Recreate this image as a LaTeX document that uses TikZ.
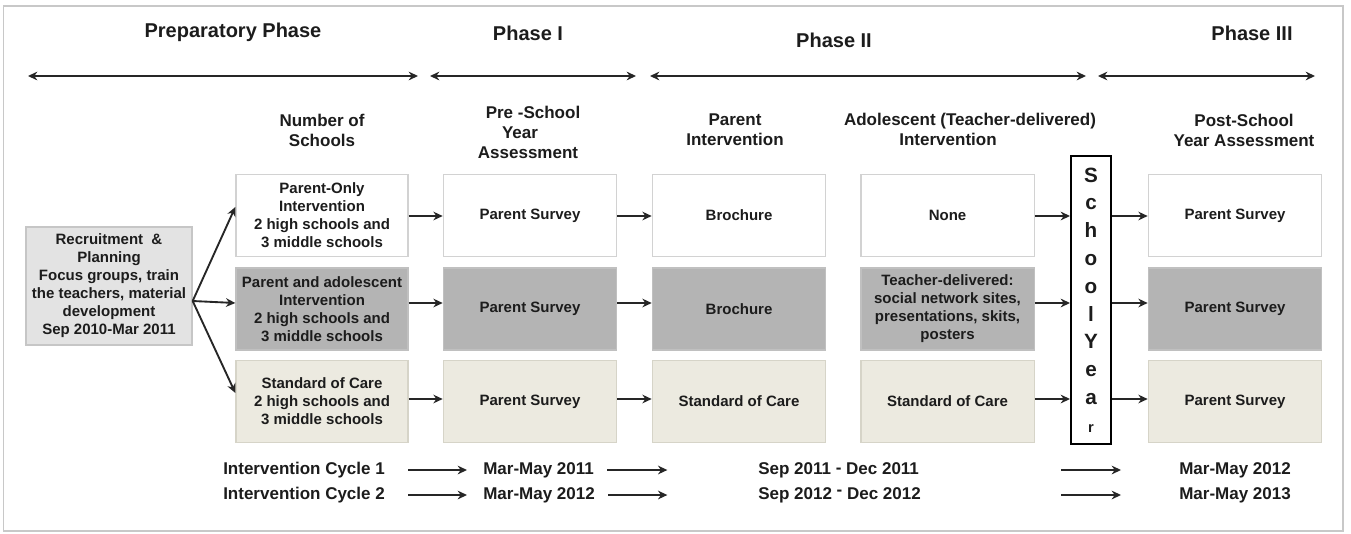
\documentclass[tikz,border=0pt]{standalone}
\usepackage{fontspec}
\setmainfont{Liberation Sans}
\usetikzlibrary{arrows.meta,calc}
\definecolor{ink}{HTML}{1C1C1C}
\definecolor{arrowc}{HTML}{262626}
\definecolor{rowAline}{HTML}{D2D2D2}
\definecolor{rowBfill}{HTML}{B4B4B4}
\definecolor{rowBline}{HTML}{C0C0C0}
\definecolor{rowCfill}{HTML}{ECEAE0}
\definecolor{rowCline}{HTML}{D6D4C8}
\definecolor{recfill}{HTML}{E3E3E3}
\definecolor{recline}{HTML}{C6C6C6}
\definecolor{framec}{HTML}{C8C8C8}
\newcommand{\bxfont}{\fontsize{11.25pt}{13.5pt}\selectfont\bfseries}
\newcommand{\hdfont}{\fontsize{12.75pt}{15pt}\selectfont\bfseries}
\newcommand{\phfont}{\fontsize{15pt}{18pt}\selectfont\bfseries}
\newcommand{\btfont}{\fontsize{12.75pt}{15pt}\selectfont\bfseries}
\newcommand{\syfont}{\fontsize{15.5pt}{20.85pt}\selectfont\bfseries}
\begin{document}
\begin{tikzpicture}[x=0.75pt,y=-0.75pt,
  cell/.style={rectangle, minimum width=130pt, minimum height=61.5pt, inner sep=1pt,
    align=center, font=\bxfont, text=ink, line width=1pt},
  rowA/.style={cell, fill=white, draw=rowAline},
  rowB/.style={cell, fill=rowBfill, draw=rowBline},
  rowC/.style={cell, fill=rowCfill, draw=rowCline},
  colhead/.style={align=center, font=\hdfont, text=ink, inner sep=0pt},
  phasetitle/.style={font=\phfont, text=ink, inner sep=0pt},
  cyctext/.style={font=\btfont, text=ink, inner sep=0pt, anchor=west},
  flowarr/.style={-{Stealth[length=7pt,width=6.5pt]}, line width=1.6pt, draw=arrowc},
  fanarr/.style={-{Stealth[length=7pt,width=6.5pt]}, line width=1.4pt, draw=arrowc},
  phasespan/.style={{Stealth[length=7pt,width=6.5pt]}-{Stealth[length=7pt,width=6.5pt]}, line width=1.6pt, draw=arrowc},
  cycarr/.style={-{Stealth[length=7pt,width=6.5pt]}, line width=1.6pt, draw=arrowc}
]
\useasboundingbox (0,0) rectangle (1351,533);
\fill[white] (0,0) rectangle (1351,533);
\draw[framec, line width=0.8pt] (3.5,6) rectangle (1343,531);

% phase titles
\node[phasetitle] (tprep) at (233,32) {Preparatory Phase};
\node[phasetitle] (tp1) at (528,33) {Phase I};
\node[phasetitle] (tp2) at (834,40) {Phase II};
\node[phasetitle] (tp3) at (1252,33) {Phase III};

% phase spans
\coordinate (s1a) at (28,76);   \coordinate (s1b) at (418,76);
\coordinate (s2a) at (430,76);  \coordinate (s2b) at (636,76);
\coordinate (s3a) at (650,76);  \coordinate (s3b) at (1086,76);
\coordinate (s4a) at (1098,76); \coordinate (s4b) at (1315,76);
\draw[phasespan] (s1a) -- (s1b);
\draw[phasespan] (s2a) -- (s2b);
\draw[phasespan] (s3a) -- (s3b);
\draw[phasespan] (s4a) -- (s4b);

% column headers
\node[colhead] (hnum) at (322,130.5) {Number of\\Schools};
\node[colhead] (hpre) at (528,132) {\hspace*{7.5pt}Pre -School\\Year\hspace*{12pt}\null\\Assessment};
\node[colhead] (hpar) at (735,130) {Parent\\Intervention};
\node[colhead] (hado) at (970,129.5) {Adolescent (Teacher-delivered)\\Intervention\hspace*{33pt}\null};
\node[colhead] (hpost) at (1244,130) {Post-School\\Year Assessment};

% recruitment box
\node[cell, fill=recfill, draw=recline, minimum width=124.5pt, minimum height=88.5pt] (rec) at (109,286)
  {Recruitment~ \&\\Planning\\Focus groups, train\\the teachers, material\\development\\Sep 2010-Mar 2011};

% column 1
\node[rowA, minimum width=129pt] (c1a) at (322,215.5) {Parent-Only\\Intervention\\2 high schools and\\3 middle schools};
\node[rowB, minimum width=129pt] (c1b) at (322,309) {Parent and adolescent\\Intervention\\2 high schools and\\3 middle schools};
\node[rowC, minimum width=129pt] (c1c) at (322,401.5) {Standard of Care\\2 high schools and\\3 middle schools};
% column 2
\node[rowA] (c2a) at (530,215.5) {Parent Survey};
\node[rowB] (c2b) at (530,309) {Parent Survey};
\node[rowC] (c2c) at (530,401.5) {Parent Survey};
% column 3
\node[rowA] (c3a) at (739,215.5) {Brochure};
\node[rowB] (c3b) at (739,309) {Brochure};
\node[rowC] (c3c) at (739,401.5) {Standard of Care};
% column 4
\node[rowA] (c4a) at (947.5,215.5) {None};
\node[rowB] (c4b) at (947.5,309) {Teacher-delivered:\\social network sites,\\presentations, skits,\\posters};
\node[rowC] (c4c) at (947.5,401.5) {Standard of Care};
% column 5
\node[rowA] (c5a) at (1235,215.5) {Parent Survey};
\node[rowB] (c5b) at (1235,309) {Parent Survey};
\node[rowC] (c5c) at (1235,401.5) {Parent Survey};

% school year
\node[draw=black, line width=1.5pt, fill=white, minimum width=30pt, minimum height=216pt,
  inner sep=0pt, align=center, font=\syfont, text=ink] (sy) at (1091,300)
  {S\\c\\h\\o\\o\\l\\Y\\e\\a\\{\fontsize{11pt}{20.85pt}\selectfont r}};

% fan arrows
\draw[fanarr] ([yshift=-11.25pt]rec.east) -- ([yshift=6.4pt]c1a.west);
\draw[fanarr] ([yshift=-11.25pt]rec.east) -- ([yshift=4.5pt]c1b.west);
\draw[fanarr] ([yshift=-11.25pt]rec.east) -- ([yshift=6.4pt]c1c.west);

% row arrows
\foreach \r/\d in {a/0.5,b/-6,c/-2.5} {
  \draw[flowarr] ($(c1\r.east)+(0,\d)$) -- ($(c2\r.west)+(0,\d)$);
  \draw[flowarr] ($(c2\r.east)+(0,\d)$) -- ($(c3\r.west)+(0,\d)$);
  \draw[flowarr] ($(c4\r.east)+(0,\d)$) -- ($(c4\r.east -| sy.west)+(0,\d)$);
  \draw[flowarr] ($(sy.east |- c5\r.west)+(0,\d)$) -- ($(c5\r.west)+(0,\d)$);
}

% intervention cycles
\node[cyctext] (cy1) at (223,470) {Intervention Cycle 1};
\node[cyctext] (ma1) at (483,470) {Mar-May 2011};
\node[cyctext] (sd1) at (758,470) {Sep 2011 \raisebox{0.8pt}{-} Dec 2011};
\node[cyctext] (mb1) at (1179,470) {Mar-May 2012};
\node[cyctext] (cy2) at (223,495) {Intervention Cycle 2};
\node[cyctext] (ma2) at (483,495) {Mar-May 2012};
\node[cyctext] (sd2) at (758,495) {Sep 2012 \raisebox{2.5pt}{-} Dec 2012};
\node[cyctext] (mb2) at (1179,495) {Mar-May 2013};
\foreach \r in {1,2} {
  \draw[cycarr] ([xshift=17.5pt]cy\r.east) -- ([xshift=-12pt]ma\r.west);
  \draw[cycarr] ([xshift=10pt]ma\r.east) -- ([xshift=-68pt]sd\r.west);
  \draw[cycarr] ([xshift=-88.5pt]mb\r.west) -- ([xshift=-43.5pt]mb\r.west);
}
\end{tikzpicture}
\end{document}
